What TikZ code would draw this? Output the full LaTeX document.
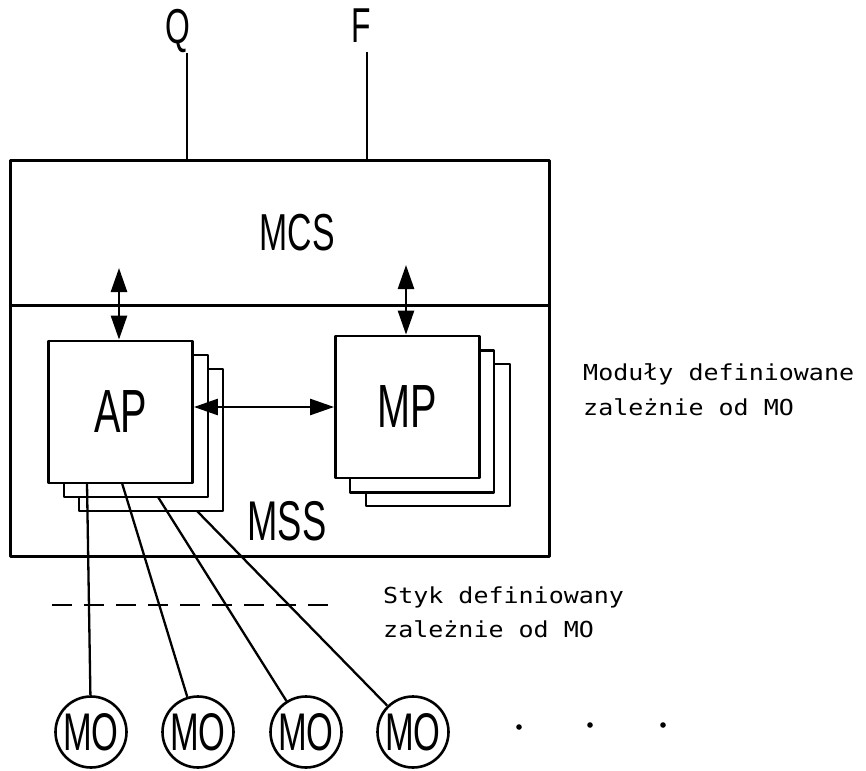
\documentclass[tikz,border=0pt]{standalone}
\usepackage{fontspec}
\setmainfont{Liberation Sans}
\newfontfamily\monof{DejaVu Sans Mono}
\usetikzlibrary{arrows.meta,calc}
\newcommand{\nw}[2]{{\fontsize{#1}{#1}\selectfont\scalebox{0.65}[1]{#2}}}
\newcommand{\mt}[1]{{\monof\fontsize{25}{25}\selectfont\scalebox{1}[0.88]{#1}}}
\begin{document}
\begin{tikzpicture}[x=1pt,y=-1pt,line join=round,
  frame/.style={draw,line width=3pt,inner sep=0pt},
  layer/.style={draw,fill=white,line width=2.8pt,minimum width=144pt,minimum height=142pt,inner sep=0pt},
  lbl/.style={inner sep=0pt,anchor=base},
  monotxt/.style={inner sep=0pt,anchor=base west},
  conn/.style={line width=2.3pt},
  extline/.style={line width=2.8pt},
  biarrow/.style={line width=2.6pt,{Triangle[length=24pt,width=16pt]}-{Triangle[length=24pt,width=16pt]}},
  styk/.style={line width=2.6pt,dash pattern=on 20pt off 12pt},
  mo/.style={draw,circle,line width=2.6pt,minimum size=71pt,inner sep=0pt},
  dotmark/.style={fill=black}]
\useasboundingbox (0,0) rectangle (866,770);

% outer frames
\node[frame,minimum width=539pt,minimum height=144pt] (mcs) at (279.5,233) {};
\node[frame,minimum width=539pt,minimum height=251pt] (mss) at (279.5,430.5) {};
\node[lbl] (mcslbl) at (297,250) {\nw{52}{MCS}};
\node[lbl] (msslbl) at (287,540) {\nw{56}{MSS}};

% external signals
\node[lbl] (q) at (178,44) {\nw{49}{Q}};
\node[lbl] (f) at (361,43) {\nw{49}{F}};
\coordinate (qtop) at (187,53);
\coordinate (ftop) at (367,52);
\draw[extline] (qtop) -- (qtop |- mcs.north);
\draw[extline] (ftop) -- (ftop |- mcs.north);

% AP stack
\node[layer] (ap3) at (151,440) {};
\node[layer] (ap2) at (136,426) {};
\node[layer] (ap) at (120.5,412) {\nw{61}{AP}};

% MP stack
\node[layer] (mp3) at (438,435) {};
\node[layer] (mp2) at (422,421.5) {};
\node[layer] (mp) at (407.5,407) {\nw{61}{MP}};

% arrows
\coordinate (u1) at (119,268);
\coordinate (u2) at (406,265);
\draw[biarrow] (u1) -- (u1 |- ap.north);
\draw[biarrow] (u2) -- (u2 |- mp.north);
\draw[biarrow] (ap.east |- mp.west) -- (mp.west);

% side texts
\node[monotxt] (mod1) at (583,380) {\mt{Moduły definiowane}};
\node[monotxt] (mod2) at (583,415) {\mt{zależnie od MO}};
\node[monotxt] (styk1) at (383,603) {\mt{Styk definiowany}};
\node[monotxt] (styk2) at (383,637) {\mt{zależnie od MO}};

% dashed interface line
\coordinate (d1) at (52,605);
\coordinate (d2) at (338,605);
\draw[styk] (d1) -- (d2);

% MO circles
\node[mo] (mo1) at (91,732) {\nw{53}{MO}};
\node[mo] (mo2) at (198,732) {\nw{53}{MO}};
\node[mo] (mo3) at (306,732) {\nw{53}{MO}};
\node[mo] (mo4) at (413,732) {\nw{53}{MO}};

% connectors
\coordinate (s1) at (87,483);
\coordinate (s2) at (122,483);
\coordinate (s3) at (158,497);
\coordinate (s4) at (197,511);
\draw[conn] (s1) -- (mo1);
\draw[conn] (s2) -- (mo2);
\draw[conn] (s3) -- (mo3);
\draw[conn] (s4) -- (mo4);

% continuation dots
\fill[dotmark] (519,727) circle (2.8pt);
\fill[dotmark] (590,725) circle (2.8pt);
\fill[dotmark] (663,725) circle (2.8pt);
\end{tikzpicture}
\end{document}
